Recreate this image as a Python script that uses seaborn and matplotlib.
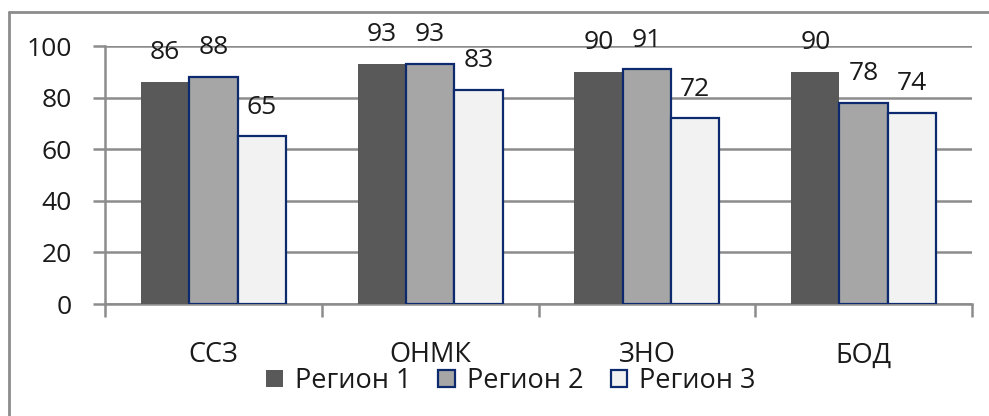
import matplotlib
matplotlib.use("Agg")
import matplotlib.pyplot as plt
from matplotlib.lines import Line2D
from matplotlib.patches import Patch
import seaborn as sns
import pandas as pd
import numpy as np

categories = ["ССЗ", "ОНМК", "ЗНО", "БОД"]
series_names = ["Регион 1", "Регион 2", "Регион 3"]
region1 = [86, 93, 90, 90]
region2 = [88, 93, 91, 78]
region3 = [65, 83, 72, 74]
y_ticks = [0, 20, 40, 60, 80, 100]

fills = ["#595959", "#a6a6a6", "#f2f2f2"]
edges = ["none", "#0e2a6e", "#0e2a6e"]
grid_col = "#8c8c8c"
text_col = "#1a1a1a"

df = pd.DataFrame({
    "cat": categories * 3,
    "series": [s for s in series_names for _ in categories],
    "value": region1 + region2 + region3,
})

sns.set_theme(style="white")
plt.rcParams["font.family"] = ["Open Sans", "DejaVu Sans"]

fig = plt.figure(figsize=(9.89, 4.16), dpi=100)
ax = fig.add_axes([105 / 989, 1 - 304 / 416, (972 - 105) / 989, (304 - 46) / 416])

sns.barplot(data=df, x="cat", y="value", hue="series", palette=fills,
            width=0.668, gap=0, ax=ax, legend=False, saturation=1,
            zorder=3)

for i, cont in enumerate(ax.containers):
    for bar in cont:
        if edges[i] == "none":
            bar.set_edgecolor("none")
            bar.set_linewidth(0)
        else:
            bar.set_edgecolor(edges[i])
            bar.set_linewidth(1.6)
    ax.bar_label(cont, labels=[str(int(v)) for v in cont.datavalues],
                 padding=12, fontsize=19, color=text_col)

ax.set_ylim(0, 100)
ax.set_xlim(-0.5, 3.5)
ax.set_yticks(y_ticks)
ax.set_yticklabels([str(t) for t in y_ticks], fontsize=19, color=text_col)
ax.yaxis.grid(True, color=grid_col, linewidth=1.8, zorder=0)
ax.set_axisbelow(True)
ax.set_xlabel("")
ax.set_ylabel("")

ax.set_xticks(range(len(categories)))
ax.set_xticklabels(categories, fontsize=19.5, color=text_col)
ax.tick_params(axis="x", which="major", length=0, pad=27)
ax.set_xticks(np.arange(-0.5, len(categories), 1.0), minor=True)
ax.tick_params(axis="x", which="minor", length=9, width=1.8, color=grid_col,
               direction="out", bottom=True)
ax.tick_params(axis="y", length=9, width=1.8, color=grid_col, direction="out",
               left=True, pad=15)

for side in ["top", "right"]:
    ax.spines[side].set_visible(False)
for side in ["left", "bottom"]:
    ax.spines[side].set_color(grid_col)
    ax.spines[side].set_linewidth(1.8)

handles = [Patch(facecolor=fills[i],
                 edgecolor=(fills[i] if edges[i] == "none" else edges[i]),
                 linewidth=(0 if edges[i] == "none" else 1.6))
           for i in range(3)]
fig.legend(handles, series_names, loc="center", ncol=3,
           bbox_to_anchor=(511 / 989, 1 - 381 / 416), frameon=False,
           fontsize=19.5, handlelength=0.6, handleheight=0.6,
           handletextpad=0.45, columnspacing=1.0, labelcolor=text_col)

# chart frame
fig.add_artist(Line2D([9 / 989, 9 / 989], [0, 1 - 12 / 416],
                      color=grid_col, linewidth=2, transform=fig.transFigure))
fig.add_artist(Line2D([9 / 989, 1.0], [1 - 12 / 416, 1 - 12 / 416],
                      color=grid_col, linewidth=2, transform=fig.transFigure))

fig.savefig("out.png", dpi=100, facecolor="white")
